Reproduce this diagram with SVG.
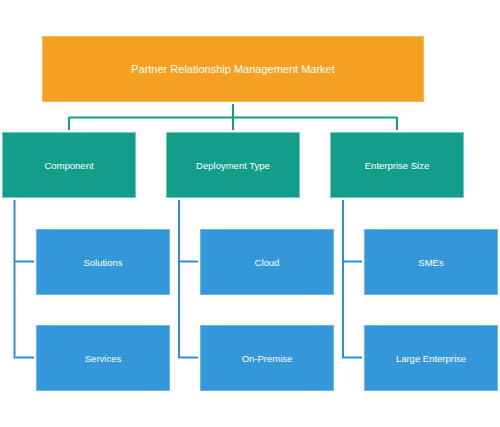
<svg xmlns="http://www.w3.org/2000/svg" width="500" height="427" viewBox="0 0 500 427">
<style>
text{font-family:"Liberation Sans",Arial,sans-serif;fill:#fff;text-anchor:middle;dominant-baseline:central}
.root rect{fill:#F5A020;stroke:#F8B85A;stroke-width:1}
.cat rect{fill:#129E89;stroke:#6FCBBB;stroke-width:1}
.leaf rect{fill:#3397D9;stroke:#6DB6E6;stroke-width:1}
.t1{font-size:11px}
.t2{font-size:9.5px}
.teal{stroke:#129E89;stroke-width:2;fill:none}
.blue{stroke:#2E8ED6;stroke-width:2;fill:none}
</style>
<rect width="500" height="427" fill="#fff"/>
<g id="connectors">
<path class="teal" d="M233 104V130M69 117.5H397M69 117V130M397 117V130"/>
<path class="blue" d="M14.5 200V357.5H34M14.5 261.5H34"/>
<path class="blue" d="M179 200V357.5H198M179 261.5H198"/>
<path class="blue" d="M343 200V357.5H362M343 261.5H362"/>
</g>
<g id="root" class="root"><rect x="42.5" y="36.5" width="381" height="65"/><text class="t1" x="233" y="69">Partner Relationship Management Market</text></g>
<g id="component" class="cat"><rect x="2.5" y="132.5" width="133" height="65"/><text class="t2" x="69" y="165">Component</text></g>
<g id="deployment" class="cat"><rect x="166.5" y="132.5" width="133" height="65"/><text class="t2" x="233" y="165">Deployment Type</text></g>
<g id="enterprise" class="cat"><rect x="330.5" y="132.5" width="133" height="65"/><text class="t2" x="397" y="165">Enterprise Size</text></g>
<g id="solutions" class="leaf"><rect x="36.5" y="229.5" width="133" height="65"/><text class="t2" x="103" y="262">Solutions</text></g>
<g id="services" class="leaf"><rect x="36.5" y="325.5" width="133" height="65"/><text class="t2" x="103" y="358">Services</text></g>
<g id="cloud" class="leaf"><rect x="200.5" y="229.5" width="133" height="65"/><text class="t2" x="267" y="262">Cloud</text></g>
<g id="onpremise" class="leaf"><rect x="200.5" y="325.5" width="133" height="65"/><text class="t2" x="267" y="358">On-Premise</text></g>
<g id="smes" class="leaf"><rect x="364.5" y="229.5" width="133" height="65"/><text class="t2" x="431" y="262">SMEs</text></g>
<g id="large" class="leaf"><rect x="364.5" y="325.5" width="133" height="65"/><text class="t2" x="431" y="358">Large Enterprise</text></g>
</svg>
